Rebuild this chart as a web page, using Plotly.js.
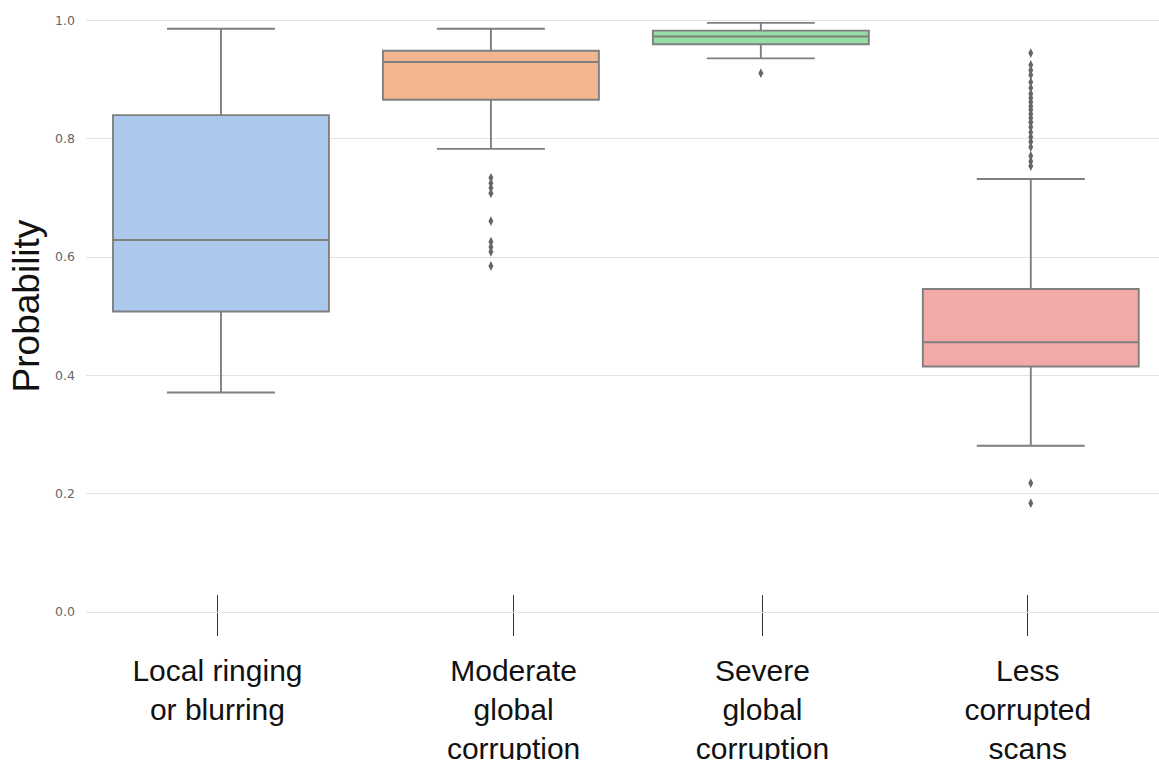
<!DOCTYPE html>
<html>
<head>
<meta charset="utf-8">
<script src="https://cdn.plot.ly/plotly-3.0.1.min.js"></script>
<style>html,body{margin:0;padding:0;background:#fff}#chart{width:1159px;height:760px}</style>
</head>
<body>
<div id="chart"></div>
<script>
// ---- data ----
const categories = ["Local ringing or blurring", "Moderate global corruption", "Severe global corruption", "Less corrupted scans"];
const tickLabels = ["Local ringing<br>or blurring", "Moderate<br>global<br>corruption", "Severe<br>global<br>corruption", "Less<br>corrupted<br>scans"];
const lowerFence = [0.371, 0.783, 0.936, 0.281];
const q1Values   = [0.508, 0.866, 0.960, 0.415];
const medians    = [0.629, 0.930, 0.973, 0.456];
const q3Values   = [0.840, 0.949, 0.983, 0.546];
const upperFence = [0.986, 0.986, 0.996, 0.732];
const boxColors  = ["#abc9ec", "#f1b68f", "#97dca5", "#f2aaa8"];

const outliersModerate = [0.734, 0.725, 0.717, 0.708, 0.661, 0.626, 0.617, 0.609, 0.585];
const outliersSevere   = [0.911];
const outliersLess     = [0.945, 0.925, 0.916, 0.908, 0.896, 0.886, 0.876, 0.869, 0.862, 0.855,
                          0.849, 0.842, 0.835, 0.828, 0.820, 0.811, 0.803, 0.795, 0.786, 0.771,
                          0.762, 0.754, 0.218, 0.184];
const yTicks = [0.0, 0.2, 0.4, 0.6, 0.8, 1.0];

// ---- traces ----
const lineGray = "#7f7f7f";
const traces = categories.map((c, i) => ({
  type: "box",
  x: [c],
  q1: [q1Values[i]], median: [medians[i]], q3: [q3Values[i]],
  lowerfence: [lowerFence[i]], upperfence: [upperFence[i]],
  fillcolor: boxColors[i],
  line: {color: lineGray, width: 1.9},
  whiskerwidth: 0.5,
  width: 0.8,
  boxpoints: false,
  hoverinfo: "skip",
  showlegend: false
}));

const outX = [], outY = [];
outliersModerate.forEach(v => { outX.push(categories[1]); outY.push(v); });
outliersSevere.forEach(v => { outX.push(categories[2]); outY.push(v); });
outliersLess.forEach(v => { outX.push(categories[3]); outY.push(v); });
traces.push({
  type: "scatter", mode: "markers", x: outX, y: outY,
  marker: {symbol: "diamond-tall", size: 7, color: "#666"},
  hoverinfo: "skip", showlegend: false
});

const labelPositions = [-0.013, 1.084, 2.006, 2.989];
const xr = [-0.5, 3.475];

const layout = {
  width: 1159, height: 760,
  margin: {l: 86, r: 0, t: 0, b: 148},
  paper_bgcolor: "#fff", plot_bgcolor: "#fff",
  xaxis: {
    type: "category", categoryorder: "array", categoryarray: categories,
    range: xr, showticklabels: false, ticks: "", showgrid: false, zeroline: false, showline: false
  },
  xaxis2: {
    overlaying: "x", anchor: "y", side: "bottom", type: "linear", range: xr,
    tickmode: "array", tickvals: labelPositions, ticktext: tickLabels,
    ticks: "outside", ticklen: 23, tickwidth: 1, tickcolor: "#333",
    ticklabelstandoff: 9,
    tickfont: {family: "Arial, Liberation Sans, sans-serif", size: 30, color: "#111"},
    showgrid: false, zeroline: false, showline: true, linecolor: "#e2e2e2", linewidth: 1.2
  },
  xaxis3: {
    overlaying: "x", anchor: "y", side: "bottom", type: "linear", range: xr,
    tickmode: "array", tickvals: labelPositions, showticklabels: false,
    ticks: "inside", ticklen: 17, tickwidth: 1, tickcolor: "#333",
    showgrid: false, zeroline: false, showline: false
  },
  yaxis: {
    range: [0, 1.0347], tickmode: "array", tickvals: yTicks, tickformat: ".1f",
    ticks: "", ticklabelstandoff: 10,
    tickfont: {family: "DejaVu Sans, sans-serif", size: 12.5, color: "#666"},
    showgrid: true, gridcolor: "#e2e2e2", gridwidth: 1.2, zeroline: false, showline: false,
    title: {text: "Probability", standoff: 4, font: {family: "Arial, Liberation Sans, sans-serif", size: 37, color: "#111"}}
  }
};

// invisible helper traces that switch on the label axes
traces.push({type: "scatter", x: [0], y: [-1], xaxis: "x2", yaxis: "y", mode: "markers", hoverinfo: "skip", showlegend: false, marker: {opacity: 0}});
traces.push({type: "scatter", x: [0], y: [-1], xaxis: "x3", yaxis: "y", mode: "markers", hoverinfo: "skip", showlegend: false, marker: {opacity: 0}});

Plotly.newPlot("chart", traces, layout, {displayModeBar: false, staticPlot: true});
</script>
</body>
</html>
